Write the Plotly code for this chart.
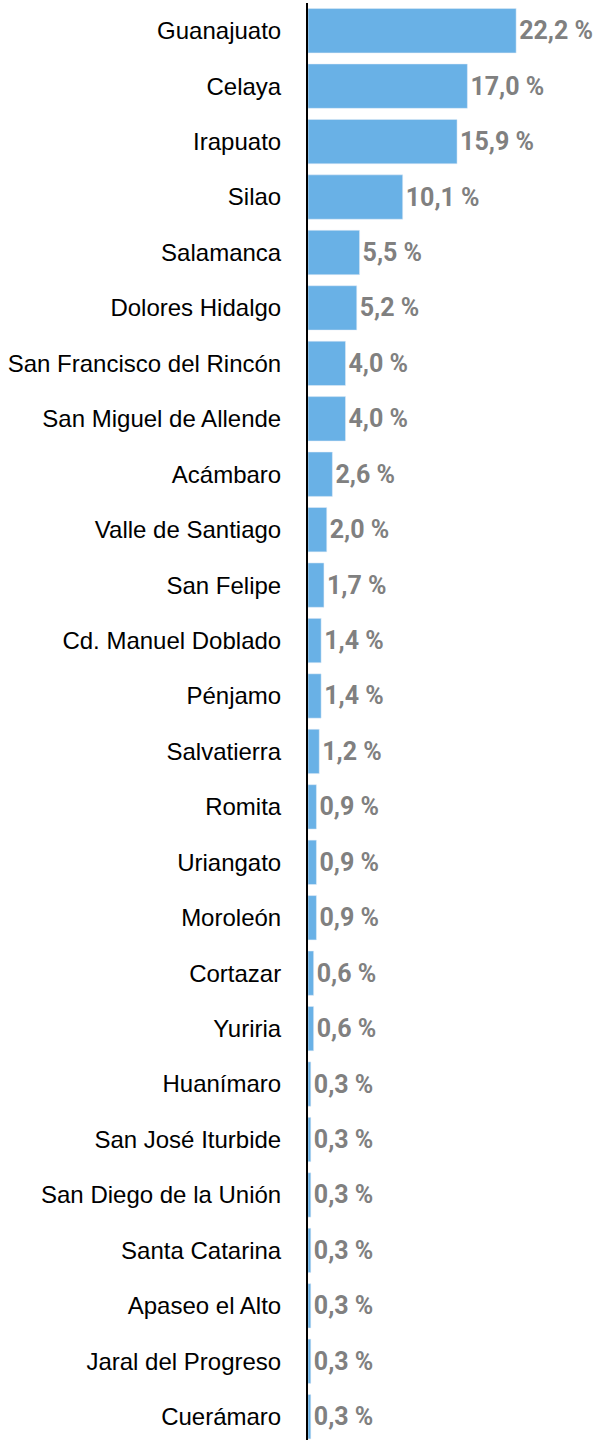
import plotly.graph_objects as go

municipios = [
    "Guanajuato", "Celaya", "Irapuato", "Silao", "Salamanca", "Dolores Hidalgo",
    "San Francisco del Rincón", "San Miguel de Allende", "Acámbaro", "Valle de Santiago",
    "San Felipe", "Cd. Manuel Doblado", "Pénjamo", "Salvatierra", "Romita", "Uriangato",
    "Moroleón", "Cortazar", "Yuriria", "Huanímaro", "San José Iturbide",
    "San Diego de la Unión", "Santa Catarina", "Apaseo el Alto", "Jaral del Progreso",
    "Cuerámaro",
]
porcentaje = [
    22.2, 17.0, 15.9, 10.1, 5.5, 5.2, 4.0, 4.0, 2.6, 2.0, 1.7, 1.4, 1.4, 1.2,
    0.9, 0.9, 0.9, 0.6, 0.6, 0.3, 0.3, 0.3, 0.3, 0.3, 0.3, 0.3,
]

fig = go.Figure(go.Bar(
    x=porcentaje, y=municipios, orientation="h",
    marker_color="#69b1e6",
    texttemplate="%{x:.1f} %", textposition="outside",
    textfont=dict(family="Roboto", size=25, color="#808080", weight="bold"),
    constraintext="none", cliponaxis=False,
))

fig.update_layout(
    width=593, height=1440,
    margin=dict(l=308, r=0, t=3, b=0),
    plot_bgcolor="white", paper_bgcolor="white",
    separators=", ",
    bargap=0.2,
    showlegend=False,
    xaxis=dict(visible=False, range=[0, 30.4]),
    yaxis=dict(
        range=[25.42, -0.5], showline=True, linecolor="black", linewidth=2,
        showgrid=False, ticks="", ticklabelstandoff=20,
        tickfont=dict(family="Liberation Sans", size=24, color="black"),
    ),
)

# sin margen del body para que la figura quede pegada a la esquina
fig.write_html("out.html", config={"displayModeBar": False},
               post_script="document.body.style.margin='0';")
